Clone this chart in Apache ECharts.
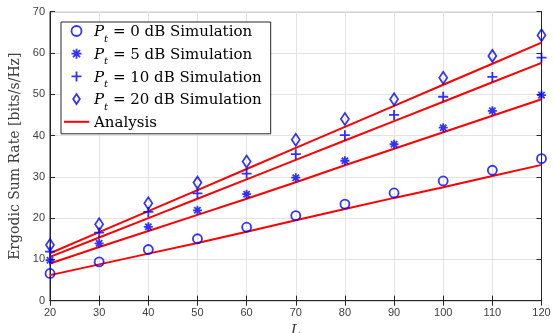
<!DOCTYPE html>
<html>
<head>
<meta charset="utf-8">
<script src="https://cdn.jsdelivr.net/npm/echarts@6/dist/echarts.min.js"></script>
<style>
html,body{margin:0;padding:0;background:#fff;}
#c{width:553px;height:333px;}
</style>
</head>
<body>
<div id="c"></div>
<script>
// ---- data ----
const xValues = [20, 30, 40, 50, 60, 70, 80, 90, 100, 110, 120];
const sim0dB  = [6.6, 9.4, 12.4, 15.0, 17.8, 20.6, 23.4, 26.1, 29.0, 31.6, 34.4];
const sim5dB  = [9.8, 13.9, 17.9, 21.9, 25.8, 29.8, 33.9, 37.9, 41.9, 46.0, 49.8];
const sim10dB = [11.9, 16.5, 21.5, 26.0, 30.8, 35.5, 40.1, 45.0, 49.4, 54.2, 58.9];
const sim20dB = [13.5, 18.5, 23.6, 28.6, 33.7, 39.0, 44.0, 48.8, 54.0, 59.3, 64.3];
const ana0dB  = [6.2, 8.8, 11.4, 14.0, 16.7, 19.5, 22.2, 24.9, 27.5, 30.2, 32.9];
const ana5dB  = [9.0, 13.0, 16.9, 20.8, 24.7, 28.7, 32.8, 36.8, 40.8, 44.8, 48.8];
const ana10dB = [10.6, 15.3, 20.0, 24.7, 29.4, 34.1, 38.8, 43.5, 48.2, 52.9, 57.6];
const ana20dB = [11.5, 16.6, 21.7, 26.8, 31.9, 37.0, 42.1, 47.2, 52.3, 57.4, 62.5];
const powerLabels = ['0', '5', '10', '20'];
const yTicks = {min: 0, max: 70, interval: 10};
const xTicks = {min: 20, max: 120, interval: 10};
const yAxisTitle = 'Ergodic Sum Rate [bits/s/Hz]';
const xAxisTitle = 'L';
const analysisName = 'Analysis';

// ---- build ----
const serif = '"DejaVu Serif", "Liberation Serif", serif';
const sans = '"Liberation Sans", Arial, sans-serif';
const blue = '#0000ff';
const red = '#ff0000';
const pair = arr => arr.map((v, i) => [xValues[i], v]);
const simNames = powerLabels.map(p => 'Pt' + p);
const symbols = [
  {symbol: 'circle', size: 9},
  {symbol: 'path://M5 0 L5 10 M0 5 L10 5 M1.5 1.5 L8.5 8.5 M8.5 1.5 L1.5 8.5', size: 9},
  {symbol: 'path://M5 0 L5 10 M0 5 L10 5', size: 10},
  {symbol: 'path://M4 0 L8 6 L4 12 L0 6 Z', size: [8, 12]}
];
const sims = [sim0dB, sim5dB, sim10dB, sim20dB];
const anas = [ana0dB, ana5dB, ana10dB, ana20dB];
const markStyle = {color: 'rgba(0,0,0,0)', borderColor: blue, borderWidth: 1.8};

const series = [];
anas.forEach(a => series.push({
  type: 'line', name: analysisName, data: pair(a), showSymbol: false, symbol: 'none',
  lineStyle: {color: red, width: 2}, itemStyle: {color: red}, z: 2, silent: true
}));
sims.forEach((s, k) => series.push({
  type: 'scatter', name: simNames[k], data: pair(s),
  symbol: symbols[k].symbol, symbolSize: symbols[k].size,
  itemStyle: markStyle, z: 3
}));

const FS = 15;
const legendRich = {
  i: {fontFamily: serif, fontStyle: 'italic', fontSize: FS, color: '#000', verticalAlign: 'bottom', lineHeight: 18},
  s: {fontFamily: serif, fontStyle: 'italic', fontSize: 10, color: '#000', verticalAlign: 'bottom', lineHeight: 14, padding: [0, 0, -4, 0]},
  n: {fontFamily: serif, fontSize: FS, color: '#000', verticalAlign: 'bottom', lineHeight: 18}
};

const option = {
  animation: false,
  backgroundColor: '#fff',
  grid: {left: 50, right: 11.5, top: 11.7, bottom: 32.3, show: true, borderColor: '#262626', borderWidth: 1, outerBoundsMode: 'none'},
  legend: {
    left: 61, top: 22, orient: 'vertical',
    backgroundColor: '#fff', borderColor: '#262626', borderWidth: 1,
    padding: [3, 9, 3, 3], itemGap: 3.7, itemWidth: 25, itemHeight: 10,
    data: simNames.map(n => ({name: n, itemStyle: markStyle}))
      .concat([{name: analysisName, icon: 'path://M0 0 H25 V2 H0 Z', itemStyle: {color: red, borderWidth: 0}}]),
    formatter: name => {
      const k = simNames.indexOf(name);
      if (k < 0) return '{n|' + name + '}';
      return '{i|P}{s|t}{n| = ' + powerLabels[k] + ' dB Simulation}';
    },
    textStyle: {fontFamily: serif, fontSize: FS, color: '#000', rich: legendRich}
  },
  xAxis: [{
    type: 'value', min: xTicks.min, max: xTicks.max, interval: xTicks.interval,
    name: xAxisTitle, nameLocation: 'middle', nameGap: 21,
    nameTextStyle: {fontFamily: serif, fontStyle: 'italic', fontSize: 15, color: '#404040'},
    axisLine: {show: true, lineStyle: {color: '#262626', width: 1}},
    axisTick: {show: true, inside: true, length: 5, lineStyle: {color: '#262626'}},
    axisLabel: {fontFamily: sans, fontSize: 11, color: '#404040', margin: 7},
    splitLine: {show: true, lineStyle: {color: '#e3e3e3', width: 1}}
  }, {
    type: 'value', position: 'top', min: xTicks.min, max: xTicks.max, interval: xTicks.interval,
    axisLine: {show: true, lineStyle: {color: '#262626', width: 1}},
    axisTick: {show: true, inside: true, length: 5, lineStyle: {color: '#262626'}},
    axisLabel: {show: false}, splitLine: {show: false}
  }],
  yAxis: [{
    type: 'value', min: yTicks.min, max: yTicks.max, interval: yTicks.interval,
    name: yAxisTitle, nameLocation: 'middle', nameGap: 18,
    nameTextStyle: {fontFamily: serif, fontSize: 14, color: '#404040'},
    axisLine: {show: true, lineStyle: {color: '#262626', width: 1}},
    axisTick: {show: true, inside: true, length: 5, lineStyle: {color: '#262626'}},
    axisLabel: {fontFamily: sans, fontSize: 11, color: '#404040', margin: 5},
    splitLine: {show: true, lineStyle: {color: '#e3e3e3', width: 1}}
  }, {
    type: 'value', position: 'right', min: yTicks.min, max: yTicks.max, interval: yTicks.interval,
    axisLine: {show: true, lineStyle: {color: '#262626', width: 1}},
    axisTick: {show: true, inside: true, length: 5, lineStyle: {color: '#262626'}},
    axisLabel: {show: false}, splitLine: {show: false}
  }],
  series: series
};
const chart = echarts.init(document.getElementById('c'), null, {renderer: 'canvas'});
chart.setOption(option);
</script>
</body>
</html>
